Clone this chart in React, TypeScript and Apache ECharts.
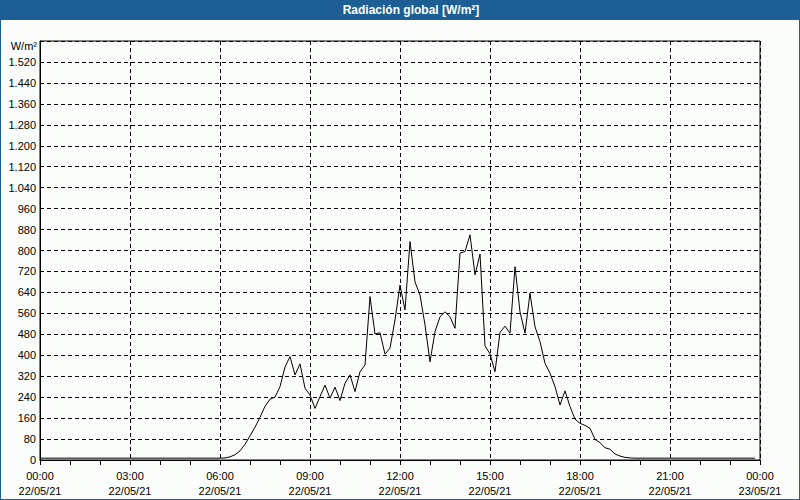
import React, { useEffect, useRef } from "react";
import * as echarts from "echarts";

const title = "Radiación global [W/m²]";
const unitLabel = "W/m²";
const stepMinutes = 10;
const dayStartLabel = "22/05/21";
const dayEndLabel = "23/05/21";
const yTickStep = 80;
const yMax = 1600;
const xTickStep = 180;

// 10-minute values from 00:00 to 23:50
const radiation = [
  7, 7, 7, 7, 7, 7, 7, 7, 7, 7, 7, 7, 7, 7, 7, 7, 7, 7,
  7, 7, 7, 7, 7, 7, 7, 7, 7, 7, 7, 7, 7, 7, 7, 7, 7, 7,
  7, 8, 12, 20, 35, 60, 92, 125, 163, 205,
  232, 240, 280, 355, 395, 325, 367, 274, 248, 197,
  242, 286, 236, 278, 227, 293, 325, 261, 337, 363,
  624, 481, 486, 404, 427, 535, 668, 573, 834, 680,
  630, 516, 375, 490, 547, 566, 547, 503, 790, 796,
  860, 707, 786, 436, 405, 337, 487, 511, 484, 738,
  566, 484, 637, 509, 452, 369, 331, 280, 210, 264,
  204, 156, 140, 132, 121, 79, 66, 47, 41, 23,
  15, 10, 8,
  7, 7, 7, 7, 7, 7, 7, 7, 7, 7, 7, 7, 7, 7, 7, 7, 7, 7, 7, 7, 7, 7, 7, 7, 7,
];

const BLUE = "#1d5f94";
const FONT = "Liberation Sans";

function fmtY(v: number): string {
  if (v >= yMax) return "";
  if (v >= 1000) {
    return Math.floor(v / 1000) + "." + String(v % 1000).padStart(3, "0");
  }
  return String(v);
}

function fmtX(v: number): string {
  const h = Math.round(v / 60) % 24;
  const hh = String(h).padStart(2, "0");
  return `${hh}:00\n${v >= 1440 ? dayEndLabel : dayStartLabel}`;
}

export default function App() {
  const ref = useRef<HTMLDivElement>(null);
  useEffect(() => {
    if (!ref.current) return;
    const chart = echarts.init(ref.current, undefined, { renderer: "svg" });
    const data = radiation.map((v, i) => [i * stepMinutes, v]);
    chart.setOption({
      animation: false,
      backgroundColor: "#fbfdfb",
      textStyle: { fontFamily: FONT },
      grid: {
        left: 40,
        right: 40,
        top: 41,
        bottom: 40,
        show: true,
        borderColor: "#000",
        borderWidth: 1,
        backgroundColor: "transparent",
      },
      graphic: [
        { type: "rect", shape: { x: 0, y: 0, width: 800, height: 20 }, style: { fill: BLUE }, silent: true },
        { type: "rect", shape: { x: 0, y: 0, width: 1, height: 500 }, style: { fill: BLUE }, silent: true },
        { type: "rect", shape: { x: 799, y: 0, width: 1, height: 500 }, style: { fill: BLUE }, silent: true },
        { type: "rect", shape: { x: 0, y: 499, width: 800, height: 1 }, style: { fill: BLUE }, silent: true },
        {
          type: "text",
          x: 411,
          y: 10,
          style: {
            text: title,
            fill: "#fff",
            font: `bold 12px "${FONT}"`,
            textAlign: "center",
            textVerticalAlign: "middle",
          },
          silent: true,
        },
        {
          type: "text",
          x: 37,
          y: 46,
          style: {
            text: unitLabel,
            fill: "#000",
            font: `11px "${FONT}"`,
            textAlign: "right",
            textVerticalAlign: "middle",
          },
          silent: true,
        },
      ],
      xAxis: {
        type: "value",
        min: 0,
        max: 1440,
        interval: xTickStep,
        axisLine: { show: true, lineStyle: { color: "#000", width: 1 } },
        axisTick: { show: true, length: 5, lineStyle: { color: "#000" } },
        minorTick: { show: true, splitNumber: 3, length: 5, lineStyle: { color: "#000" } },
        axisLabel: {
          formatter: fmtX,
          color: "#000",
          fontSize: 11,
          fontFamily: FONT,
          lineHeight: 15,
          margin: 8,
          showMinLabel: true,
          showMaxLabel: true,
        },
        splitLine: { show: true, lineStyle: { color: "#000", type: [4, 3], width: 1 } },
      },
      yAxis: {
        type: "value",
        min: 0,
        max: yMax,
        interval: yTickStep,
        axisLine: { show: true, lineStyle: { color: "#000", width: 1 } },
        axisTick: { show: false },
        axisLabel: {
          formatter: fmtY,
          color: "#000",
          fontSize: 11,
          fontFamily: FONT,
          margin: 4,
          showMinLabel: true,
          showMaxLabel: true,
        },
        splitLine: { show: true, lineStyle: { color: "#000", type: [4, 3], width: 1 } },
      },
      series: [
        {
          type: "line",
          data,
          showSymbol: false,
          symbol: "none",
          lineStyle: { color: "#000", width: 1 },
          clip: true,
        },
      ],
    });
    return () => chart.dispose();
  }, []);
  return (
    <div
      ref={ref}
      style={{ position: "fixed", left: 0, top: 0, width: 800, height: 500 }}
    />
  );
}
